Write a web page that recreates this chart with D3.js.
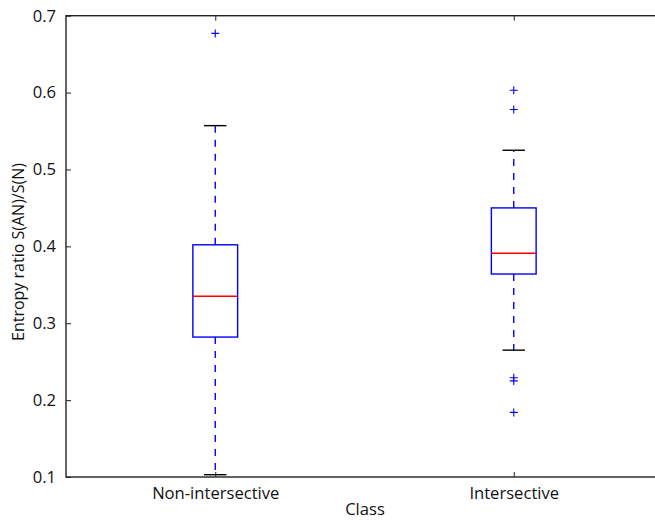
<!DOCTYPE html>
<html lang="en">
<head>
<meta charset="UTF-8">
<title>Entropy ratio by class</title>
<script src="https://d3js.org/d3.v7.min.js"></script>
<style>
    body { margin: 0; background: #fff; }
    svg { display: block; font-family: "Open Sans", sans-serif; }
</style>
</head>
<body>
<svg width="655" height="520"></svg>
<script>
// box stats
const classes = ["Non-intersective", "Intersective"];
const whiskerLow = [0.103, 0.265];
const q1 = [0.282, 0.364];
const medians = [0.335, 0.391];
const q3 = [0.402, 0.450];
const whiskerHigh = [0.557, 0.525];
const outliers = [[0.677], [0.603, 0.578, 0.229, 0.225, 0.184]];
const yTicks = [0.1, 0.2, 0.3, 0.4, 0.5, 0.6, 0.7];

const svg = d3.select("svg");
const margin = {top: 15.7, left: 66, right: 663, bottom: 477};
const fontSize = 16.6;

const x = d3.scaleLinear().domain([0.5, 2.5]).range([margin.left, margin.right]);
const y = d3.scaleLinear().domain([0.1, 0.7]).range([margin.bottom, margin.top]);

const boxW = x(1.15) - x(1);
const capW = boxW / 2;
const lw = 1.4;

const stats = classes.map((c, i) => ({
    name: c, pos: i + 1,
    lo: whiskerLow[i], q1: q1[i], med: medians[i], q3: q3[i], hi: whiskerHigh[i],
    out: outliers[i]
}));

const g = svg.append("g");

stats.forEach(d => {
    const cx = x(d.pos);
    // whiskers (dashed blue), drawn outward from the box
    [[d.q3, d.hi], [d.q1, d.lo]].forEach(([a, b]) => {
        g.append("line")
            .attr("x1", cx).attr("x2", cx)
            .attr("y1", y(a)).attr("y2", y(b))
            .attr("stroke", "#0000ff").attr("stroke-width", lw)
            .attr("stroke-dasharray", "7,7");
    });
    // caps
    [d.lo, d.hi].forEach(v => {
        g.append("line")
            .attr("x1", cx - capW / 2).attr("x2", cx + capW / 2)
            .attr("y1", y(v)).attr("y2", y(v))
            .attr("stroke", "#000").attr("stroke-width", lw);
    });
    // box
    g.append("rect")
        .attr("x", cx - boxW / 2).attr("width", boxW)
        .attr("y", y(d.q3)).attr("height", y(d.q1) - y(d.q3))
        .attr("fill", "none").attr("stroke", "#0000ff").attr("stroke-width", lw);
    // median
    g.append("line")
        .attr("x1", cx - boxW / 2).attr("x2", cx + boxW / 2)
        .attr("y1", y(d.med)).attr("y2", y(d.med))
        .attr("stroke", "#ff0000").attr("stroke-width", lw);
    // fliers as '+'
    d.out.forEach(v => {
        const py = y(v);
        g.append("path")
            .attr("d", `M${cx - 4},${py}h8M${cx},${py - 4}v8`)
            .attr("stroke", "#0000ff").attr("stroke-width", 1.1);
    });
});

// frame
svg.append("rect")
    .attr("x", margin.left).attr("y", margin.top)
    .attr("width", margin.right - margin.left).attr("height", margin.bottom - margin.top)
    .attr("fill", "none").attr("stroke", "#222").attr("stroke-width", 1.4);

// axes with inward ticks on all four sides
const yAxis = d3.axisLeft(y).tickValues(yTicks).tickFormat(d3.format(".1f"))
    .tickSizeInner(-5).tickSizeOuter(0).tickPadding(10);
const yg = svg.append("g").attr("transform", `translate(${margin.left},0)`).call(yAxis);
yg.select(".domain").remove();
yg.selectAll("text").attr("font-size", fontSize).attr("fill", "#111").attr("font-family", "Open Sans");

const yRight = d3.axisRight(y).tickValues(yTicks).tickFormat("").tickSizeInner(-5).tickSizeOuter(0);
const yrg = svg.append("g").attr("transform", `translate(${margin.right},0)`).call(yRight);
yrg.select(".domain").remove();

const xAxis = d3.axisBottom(x).tickValues([1, 2]).tickFormat(d => classes[d - 1])
    .tickSizeInner(-5).tickSizeOuter(0).tickPadding(10);
const xg = svg.append("g").attr("transform", `translate(0,${margin.bottom})`).call(xAxis);
xg.select(".domain").remove();
xg.selectAll("text").attr("font-size", fontSize).attr("fill", "#111").attr("font-family", "Open Sans");

const xTop = d3.axisTop(x).tickValues([1, 2]).tickFormat("").tickSizeInner(-5).tickSizeOuter(0);
const xtg = svg.append("g").attr("transform", `translate(0,${margin.top})`).call(xTop);
xtg.select(".domain").remove();

svg.selectAll(".tick line").attr("stroke", "#222");

// labels
svg.append("text")
    .attr("x", 365).attr("y", 515)
    .attr("text-anchor", "middle").attr("font-size", fontSize).attr("fill", "#111")
    .text("Class");

svg.append("text")
    .attr("transform", `translate(24,252) rotate(-90)`)
    .attr("text-anchor", "middle").attr("font-size", 16).attr("fill", "#111")
    .text("Entropy ratio S(AN)/S(N)");
</script>
</body>
</html>
